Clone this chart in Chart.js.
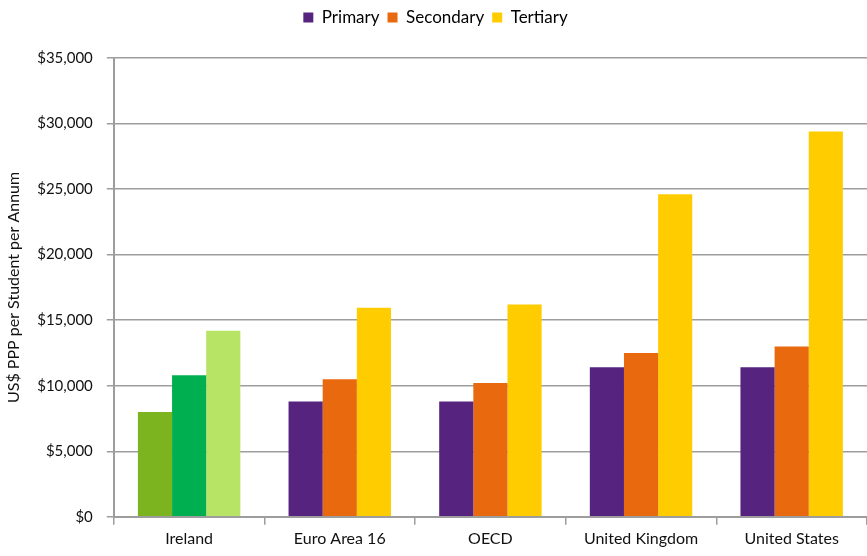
<!DOCTYPE html>
<html>
<head>
<meta charset="utf-8">
<script src="https://cdn.jsdelivr.net/npm/chart.js@4"></script>
<style>
  html, body { margin: 0; padding: 0; background: #fff; }
  #wrap { width: 867px; height: 556px; }
</style>
</head>
<body>
<div id="wrap"><canvas id="chart"></canvas></div>
<script>
// categories and series (US$ PPP per student per annum)
const countries = ['Ireland', 'Euro Area 16', 'OECD', 'United Kingdom', 'United States'];
const primary   = [8000, 8800, 8800, 11400, 11400];
const secondary = [10800, 10500, 10200, 12500, 13000];
const tertiary  = [14200, 15950, 16200, 24600, 29400];
const yTicks    = [0, 5000, 10000, 15000, 20000, 25000, 30000, 35000];

const mainColors    = ['#56237f', '#e8690e', '#ffcc00'];
const irelandColors = ['#7cb41f', '#00af50', '#b8e465'];

// Ireland is highlighted in greens
function pick(i) {
    return function(ctx) {
        return ctx.dataIndex === 0 ? irelandColors[i] : mainColors[i];
    };
}

// push the plot down a bit below the legend
const legendGap = {
    id: 'legendGap',
    beforeInit(chart) {
        const fit = chart.legend.fit;
        chart.legend.fit = function() {
            fit.bind(chart.legend)();
            this.height += 22;
        };
    }
};

const font = "'Lato', 'Open Sans', sans-serif";
const gridColor = '#9d9d9d';

const ctx = document.getElementById('chart').getContext('2d');
const myChart = new Chart(ctx, {
    type: 'bar',
    data: {
        labels: countries,
        datasets: [{
            label: 'Primary',
            data: primary,
            backgroundColor: pick(0)
        }, {
            label: 'Secondary',
            data: secondary,
            backgroundColor: pick(1)
        }, {
            label: 'Tertiary',
            data: tertiary,
            backgroundColor: pick(2)
        }]
    },
    plugins: [legendGap],
    options: {
        responsive: true,
        maintainAspectRatio: false,
        animation: false,
        layout: { padding: { left: 4, right: 0, top: 1, bottom: 4 } },
        datasets: {
            bar: { categoryPercentage: 0.68, barPercentage: 1.0 }
        },
        plugins: {
            legend: {
                position: 'top',
                labels: {
                    boxWidth: 10,
                    boxHeight: 10,
                    padding: 8,
                    color: '#111',
                    font: { family: font, size: 17 },
                    generateLabels: function(chart) {
                        return chart.data.datasets.map((ds, i) => ({
                            text: ds.label,
                            fillStyle: mainColors[i],
                            strokeStyle: mainColors[i],
                            lineWidth: 0,
                            datasetIndex: i
                        }));
                    }
                }
            },
            tooltip: { enabled: false }
        },
        scales: {
            x: {
                grid: {
                    offset: true,
                    drawOnChartArea: false,
                    color: gridColor,
                    lineWidth: 1.5,
                    tickLength: 8
                },
                border: { color: gridColor, width: 2 },
                ticks: {
                    color: '#111',
                    padding: 4,
                    font: { family: font, size: 16 }
                }
            },
            y: {
                min: 0,
                max: 35000,
                afterBuildTicks: function(axis) {
                    axis.ticks = yTicks.map(v => ({ value: v }));
                },
                grid: {
                    color: gridColor,
                    lineWidth: 1.5,
                    tickLength: 7
                },
                border: { color: gridColor, width: 2 },
                ticks: {
                    color: '#111',
                    padding: 14,
                    font: { family: font, size: 15 },
                    callback: function(value) {
                        return '$' + value.toLocaleString('en-US');
                    }
                },
                title: {
                    display: true,
                    text: 'US$ PPP per Student per Annum',
                    color: '#111',
                    padding: { top: 0, bottom: 0 },
                    font: { family: font, size: 16 }
                }
            }
        }
    }
});
</script>
</body>
</html>
